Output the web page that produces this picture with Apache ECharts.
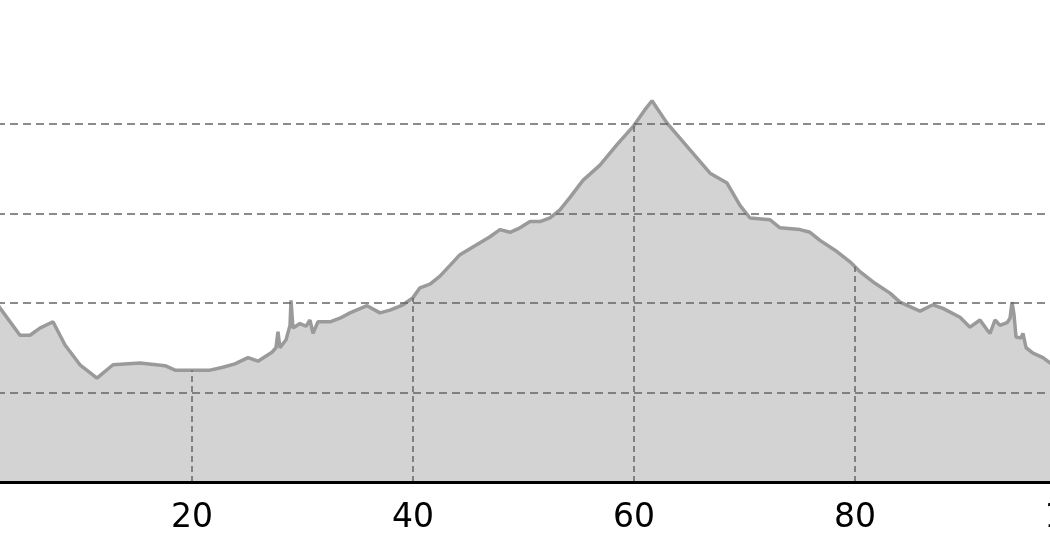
<!DOCTYPE html>
<html>
<head>
<meta charset="utf-8">
<script src="https://cdn.jsdelivr.net/npm/echarts@6/dist/echarts.min.js"></script>
<style>
  html, body { margin: 0; padding: 0; background: #fff; }
  #chart { width: 1050px; height: 560px; }
</style>
</head>
<body>
<div id="chart"></div>
<script>
// distance along the route (x) and elevation (y)
const distance = [
  1.7, 4.43, 5.34, 6.24, 7.42, 8.51, 9.86, 11.4, 12.85, 15.29,
  17.56, 18.46, 21.63, 22.71, 23.89, 25.07, 25.97, 27.24, 27.6, 27.78,
  27.96, 28.51, 28.87, 28.96, 29.14, 29.77, 30.32, 30.68, 30.95, 31.4,
  32.49, 33.39, 34.3, 35.84, 37.01, 37.92, 39.1, 40.0, 40.63, 41.54,
  42.44, 43.35, 44.25, 45.61, 46.97, 47.87, 48.78, 49.68, 50.59, 51.49,
  52.4, 53.3, 54.21, 55.38, 56.92, 58.46, 59.91, 60.99, 61.63, 62.99,
  65.07, 66.88, 68.42, 69.59, 70.5, 72.31, 73.21, 75.02, 75.93, 76.83,
  78.19, 79.55, 80.45, 81.81, 83.17, 84.07, 85.88, 87.06, 87.96, 89.5,
  90.41, 91.31, 91.95, 92.22, 92.67, 93.12, 93.76, 94.03, 94.21, 94.39,
  94.57, 95.02, 95.2, 95.48, 96.11, 97.01, 97.65, 98.55
];
const elevation = [
  210, 164, 164, 172, 179, 153, 131, 116, 131, 133,
  130, 125, 125, 128, 132, 139, 135, 145, 150, 168,
  150, 159, 175, 203, 172, 177, 174, 181, 166, 179,
  179, 183, 189, 197, 189, 192, 198, 206, 217, 221,
  230, 242, 254, 264, 274, 282, 279, 284, 291, 291,
  295, 304, 318, 337, 354, 377, 397, 416, 426, 401,
  371, 345, 334, 309, 295, 293, 284, 282, 279, 270,
  259, 246, 235, 222, 211, 201, 191, 198, 194, 184,
  173, 181, 170, 166, 181, 175, 178, 183, 201, 187,
  162, 161, 166, 150, 144, 139, 133, 130
];
const xTicks = [20, 40, 60, 80];
const yTicks = [100, 200, 300, 400];

const chart = echarts.init(document.getElementById('chart'));

// elevation under a given distance, for the drop lines
function elevAt(d) {
  for (let i = 1; i < distance.length; i++) {
    if (distance[i] >= d) {
      const t = (d - distance[i - 1]) / (distance[i] - distance[i - 1]);
      return elevation[i - 1] + t * (elevation[i] - elevation[i - 1]);
    }
  }
  return elevation[elevation.length - 1];
}

const gridColor = '#666666';

// vertical lines only go up to the profile
const dropLines = xTicks.map((d) => [
  { coord: [d, 0], lineStyle: { type: [6, 4] } },
  { coord: [d, elevAt(d)] }
]);
// horizontal lines drawn over the fill
const levelLines = yTicks.map((v) => ({ yAxis: v, lineStyle: { type: [8, 5] } }));

const option = {
  animation: false,
  backgroundColor: '#fff',
  grid: { left: -29, right: -26, top: 124, bottom: 78, outerBoundsMode: 'none', containLabel: false },
  xAxis: {
    type: 'value',
    min: 0,
    max: 100,
    interval: 20,
    z: 10,
    axisLine: { show: true, onZero: false, lineStyle: { color: '#000', width: 3 } },
    axisTick: { show: false },
    splitLine: { show: false },
    axisLabel: {
      color: '#000',
      fontSize: 33,
      fontFamily: 'DejaVu Sans',
      margin: 20,
      hideOverlap: false
    }
  },
  yAxis: {
    type: 'value',
    min: 0,
    max: 400,
    interval: 100,
    axisLine: { show: false },
    axisTick: { show: false },
    axisLabel: { show: false },
    splitLine: { show: false }
  },
  series: [
    {
      type: 'line',
      data: distance.map((d, i) => [d, elevation[i]]),
      showSymbol: false,
      clip: false,
      lineStyle: { color: '#9a9a9a', width: 3.5 },
      areaStyle: { color: '#d3d3d3', opacity: 1 },
      markLine: {
        silent: true,
        symbol: 'none',
        label: { show: false },
        lineStyle: { color: gridColor, width: 1.5 },
        data: dropLines.concat(levelLines)
      }
    }
  ]
};

chart.setOption(option);
</script>
</body>
</html>
